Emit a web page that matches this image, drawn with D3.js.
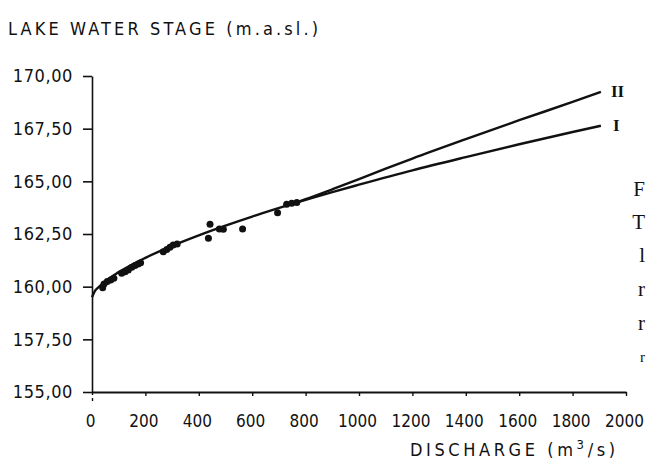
<!DOCTYPE html>
<html>
<head>
<meta charset="utf-8">
<script src="https://cdn.jsdelivr.net/npm/d3@7"></script>
<style>
  html, body { margin: 0; padding: 0; background: #fff; }
  svg { display: block; }
  .lbl { font-family: "DejaVu Sans Condensed", "DejaVu Sans", sans-serif; fill: #111; }
</style>
</head>
<body>
<svg id="chart" width="646" height="460"></svg>
<script>
// ---- data ----
const yTickValues = [155, 157.5, 160, 162.5, 165, 167.5, 170];
const yTickLabels = ["155,00", "157,50", "160,00", "162,50", "165,00", "167,50", "170,00"];
const xTickValues = [0, 200, 400, 600, 800, 1000, 1200, 1400, 1600, 1800, 2000];

// observed discharge (m3/s) and lake stage (m a.s.l.)
const obsQ = [40, 45, 57, 70, 82, 111, 124, 136, 149, 161, 173, 182,
              267, 280, 292, 304, 319, 442, 436, 477, 492, 564, 695, 729, 748, 767];
const obsH = [159.95, 160.13, 160.24, 160.32, 160.40, 160.64, 160.71, 160.79, 160.92, 161.00, 161.08, 161.14,
              161.66, 161.77, 161.87, 161.98, 162.03, 162.96, 162.30, 162.74, 162.72, 162.74, 163.51, 163.91, 163.96, 163.99];

// rating curve I
const curveIQ = [0, 10, 25, 50, 100, 200, 300, 400, 500, 600, 750, 900, 1000, 1200, 1400, 1600, 1800, 1906];
const curveIH = [159.50, 159.78, 159.98, 160.26, 160.69, 161.37, 161.94, 162.44, 162.90, 163.33, 163.93, 164.49, 164.84, 165.52, 166.15, 166.76, 167.34, 167.64];

// rating curve II (branches off above ~750 m3/s)
const curveIIQ = [750, 800, 900, 1000, 1100, 1200, 1400, 1600, 1800, 1906];
const curveIIH = [163.93, 164.15, 164.62, 165.10, 165.60, 166.08, 167.00, 167.90, 168.77, 169.25];

const curveNames = ["I", "II"];

// ---- drawing ----
const svg = d3.select("#chart");
svg.append("rect").attr("width", 646).attr("height", 460).attr("fill", "#fff");

const x = d3.scaleLinear().domain([0, 2000]).range([92, 626]);
const y = d3.scaleLinear().domain([155, 170]).range([392, 76]);

// title
svg.append("text").attr("class", "lbl")
  .attr("x", 8).attr("y", 35)
  .attr("font-size", 18)
  .attr("textLength", 310).attr("lengthAdjust", "spacing")
  .text("LAKE WATER STAGE  (m.a.sl.)");

// y axis
const yAxis = d3.axisLeft(y)
  .tickValues(yTickValues)
  .tickFormat((d, i) => yTickLabels[i])
  .tickSize(9).tickSizeOuter(0).tickPadding(10);
const gy = svg.append("g").attr("transform", "translate(92,0)").call(yAxis);
gy.selectAll("path.domain").attr("stroke", "#111").attr("stroke-width", 1.6);
gy.selectAll(".tick line").attr("stroke", "#111").attr("stroke-width", 1.6);
gy.selectAll(".tick text").attr("class", "lbl").attr("font-size", 18).attr("fill", "#111")
  .attr("letter-spacing", 0.6);

// x axis
const xAxis = d3.axisBottom(x)
  .tickValues(xTickValues)
  .tickFormat(d3.format("d"))
  .tickSize(4).tickSizeOuter(0).tickPadding(19);
const gx = svg.append("g").attr("transform", "translate(0,392)").call(xAxis);
gx.selectAll("path.domain").attr("stroke", "#111").attr("stroke-width", 2);
gx.selectAll(".tick line").attr("stroke", "#111").attr("stroke-width", 1.4);
gx.selectAll(".tick text").attr("class", "lbl").attr("font-size", 17).attr("fill", "#111")
  .attr("dx", -2);
// short dashed extension of the y axis below the origin
gx.select(".tick line").attr("y2", 12).attr("stroke-dasharray", "3,3");

// x axis title
const xt = svg.append("text").attr("class", "lbl")
  .attr("x", 410).attr("y", 456).attr("font-size", 18).attr("letter-spacing", 3.6);
xt.append("tspan").text("DISCHARGE  (m");
xt.append("tspan").attr("font-size", 13).attr("dy", -7).text("3");
xt.append("tspan").attr("dy", 7).text("/s)");

// curves
const line = d3.line().x(d => x(d[0])).y(d => y(d[1])).curve(d3.curveMonotoneX);
const curves = [
  d3.zip(curveIQ, curveIH),
  d3.zip(curveIIQ, curveIIH)
];
svg.selectAll("path.curve").data(curves).enter().append("path")
  .attr("class", "curve")
  .attr("d", line)
  .attr("fill", "none").attr("stroke", "#111").attr("stroke-width", 2.4);

// curve labels
svg.selectAll("text.cname").data(curves).enter().append("text")
  .attr("class", "cname")
  .attr("x", (d, i) => x(d[d.length - 1][0]) + (i === 0 ? 12 : 10))
  .attr("y", d => y(d[d.length - 1][1]) + 5)
  .attr("font-family", "Liberation Serif, serif").attr("font-weight", "bold")
  .attr("font-size", 17).attr("fill", "#111")
  .text((d, i) => curveNames[i]);

// observed points
svg.selectAll("circle.obs").data(d3.zip(obsQ, obsH)).enter().append("circle")
  .attr("class", "obs")
  .attr("cx", d => x(d[0])).attr("cy", d => y(d[1]))
  .attr("r", 3.5).attr("fill", "#111");

// fragments of the neighbouring page text at the right edge
const fragText = ["F", "T", "l", "r", "r", "r"];
const fragY = [196, 229, 262, 296, 330, 362];
svg.selectAll("text.frag").data(fragText).enter().append("text")
  .attr("class", "frag")
  .attr("x", 645).attr("y", (d, i) => fragY[i])
  .attr("text-anchor", "end")
  .attr("font-family", "Liberation Serif, serif")
  .attr("font-size", (d, i) => i === 5 ? 15 : 21).attr("fill", "#111")
  .text(d => d);
</script>
</body>
</html>
